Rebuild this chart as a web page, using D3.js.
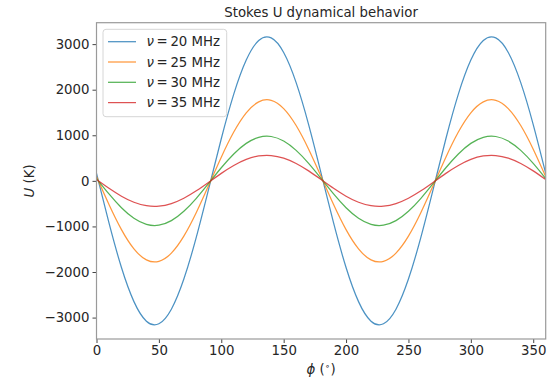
<!DOCTYPE html>
<html>
<head>
<meta charset="utf-8">
<script src="https://cdn.jsdelivr.net/npm/d3@7"></script>
<style>
	body { margin: 0; background: #fff; }
	svg { display: block; font-family: "DejaVu Sans", sans-serif; }
</style>
</head>
<body>
<div id="chart"></div>
<script>
// Azimuth samples (degrees)
const phi = [
	0, 10, 20, 30, 40, 50, 60, 70, 80, 90, 100, 110, 120, 130, 140, 150, 160, 170, 180,
	190, 200, 210, 220, 230, 240, 250, 260, 270, 280, 290, 300, 310, 320, 330, 340, 350, 360,
];

// Stokes U (K), one list per frequency
const u20 = [
	165, -924, -1902, -2650, -3079, -3136, -2816, -2155, -1235, -165, 924, 1902, 2650, 3079, 3136, 2816, 2155, 1235, 165,
	-924, -1902, -2650, -3079, -3136, -2816, -2155, -1235, -165, 924, 1902, 2650, 3079, 3136, 2816, 2155, 1235, 165,
];
const u25 = [
	93, -520, -1071, -1493, -1734, -1767, -1586, -1214, -695, -93, 520, 1071, 1493, 1734, 1767, 1586, 1214, 695, 93,
	-520, -1071, -1493, -1734, -1767, -1586, -1214, -695, -93, 520, 1071, 1493, 1734, 1767, 1586, 1214, 695, 93,
];
const u30 = [
	51, -287, -590, -822, -955, -973, -873, -668, -383, -51, 287, 590, 822, 955, 973, 873, 668, 383, 51,
	-287, -590, -822, -955, -973, -873, -668, -383, -51, 287, 590, 822, 955, 973, 873, 668, 383, 51,
];
const u35 = [
	29, -164, -337, -470, -546, -556, -499, -382, -219, -29, 164, 337, 470, 546, 556, 499, 382, 219, 29,
	-164, -337, -470, -546, -556, -499, -382, -219, -29, 164, 337, 470, 546, 556, 499, 382, 219, 29,
];

const freqs = [20, 25, 30, 35];
const seriesValues = [u20, u25, u30, u35];
const colors = ["#1f77b4", "#ff7f0e", "#2ca02c", "#d62728"];

const xTicks = [0, 50, 100, 150, 200, 250, 300, 350];
const yTicks = [-3000, -2000, -1000, 0, 1000, 2000, 3000];

const width = 549;
const height = 378;
const margin = { top: 22.7, right: 3.3, bottom: 39, left: 96.5 };
const textColor = "#262626";
const fontSize = 13.3;

const x = d3
	.scaleLinear()
	.domain([0, 360])
	.range([margin.left, width - margin.right]);

const y = d3
	.scaleLinear()
	.domain([-3470, 3470])
	.range([height - margin.bottom, margin.top]);

const svg = d3
	.select("#chart")
	.append("svg")
	.attr("width", width)
	.attr("height", height);

// Clip the curves to the axes box
svg.append("clipPath")
	.attr("id", "plot-clip")
	.append("rect")
	.attr("x", x.range()[0])
	.attr("y", y.range()[1])
	.attr("width", x.range()[1] - x.range()[0])
	.attr("height", y.range()[0] - y.range()[1]);

// Curves
const line = d3
	.line()
	.x((d) => x(d[0]))
	.y((d) => y(d[1]))
	.curve(d3.curveNatural);

svg.append("g")
	.attr("clip-path", "url(#plot-clip)")
	.attr("fill", "none")
	.attr("stroke-width", 1.25)
	.attr("stroke-opacity", 0.8)
	.selectAll("path")
	.data(seriesValues)
	.join("path")
	.attr("stroke", (d, i) => colors[i])
	.attr("d", (values) => line(phi.map((p, i) => [p, values[i]])));

// Axes
const xAxis = svg.append("g")
	.attr("transform", `translate(0,${y.range()[0]})`)
	.call(d3.axisBottom(x).tickValues(xTicks).tickSize(4).tickPadding(3));

const yAxis = svg.append("g")
	.attr("transform", `translate(${x.range()[0]},0)`)
	.call(d3.axisLeft(y).tickValues(yTicks).tickSize(4).tickPadding(3).tickFormat((d) => d < 0 ? `\u2212${-d}` : d));

for (const axis of [xAxis, yAxis]) {
	axis.select(".domain").remove();
	axis.selectAll(".tick line").attr("stroke", "#444").attr("stroke-width", 1);
	axis.selectAll(".tick text")
		.attr("fill", textColor)
		.attr("font-size", fontSize)
		.attr("font-family", "DejaVu Sans, sans-serif");
}

// Frame
svg.append("rect")
	.attr("x", x.range()[0])
	.attr("y", y.range()[1])
	.attr("width", x.range()[1] - x.range()[0])
	.attr("height", y.range()[0] - y.range()[1])
	.attr("fill", "none")
	.attr("stroke", "#9a9a9a")
	.attr("stroke-width", 1.2);

// Title
svg.append("text")
	.attr("x", (x.range()[0] + x.range()[1]) / 2)
	.attr("y", 17)
	.attr("text-anchor", "middle")
	.attr("fill", textColor)
	.attr("font-size", fontSize)
	.text("Stokes U dynamical behavior");

// X label: phi (deg)
const xLabel = svg.append("text")
	.attr("x", (x.range()[0] + x.range()[1]) / 2)
	.attr("y", 374)
	.attr("text-anchor", "middle")
	.attr("fill", textColor)
	.attr("font-size", fontSize);
xLabel.append("tspan").attr("font-style", "italic").text("\u03d5");
xLabel.append("tspan").text(" (");
xLabel.append("tspan").attr("dy", -5).attr("font-size", 9).text("\u2218");
xLabel.append("tspan").attr("dy", 5).text(")");

// Y label: U (K)
const yLabel = svg.append("text")
	.attr("transform", `translate(34,${(y.range()[0] + y.range()[1]) / 2}) rotate(-90)`)
	.attr("text-anchor", "middle")
	.attr("fill", textColor)
	.attr("font-size", fontSize);
yLabel.append("tspan").attr("font-style", "italic").text("U");
yLabel.append("tspan").text(" (K)");

// Legend
const legend = svg.append("g").attr("transform", "translate(103,29.3)");

legend.append("rect")
	.attr("width", 123.7)
	.attr("height", 87.4)
	.attr("rx", 3)
	.attr("fill", "#fff")
	.attr("fill-opacity", 0.8)
	.attr("stroke", "#d6d6d6")
	.attr("stroke-width", 1);

const entry = legend
	.selectAll("g.entry")
	.data(freqs)
	.join("g")
	.attr("class", "entry")
	.attr("transform", (d, i) => `translate(0,${12.4 + i * 20.3})`);

entry.append("line")
	.attr("x1", 5)
	.attr("x2", 33)
	.attr("stroke", (d, i) => colors[i])
	.attr("stroke-opacity", 0.8)
	.attr("stroke-width", 1.25);

const entryText = entry.append("text")
	.attr("x", 43.5)
	.attr("y", 4.7)
	.attr("fill", textColor)
	.attr("font-size", fontSize);
entryText.append("tspan").attr("font-style", "italic").text("\u03bd");
entryText.append("tspan").text((d) => `\u2009=\u2009${d} MHz`);
</script>
</body>
</html>
